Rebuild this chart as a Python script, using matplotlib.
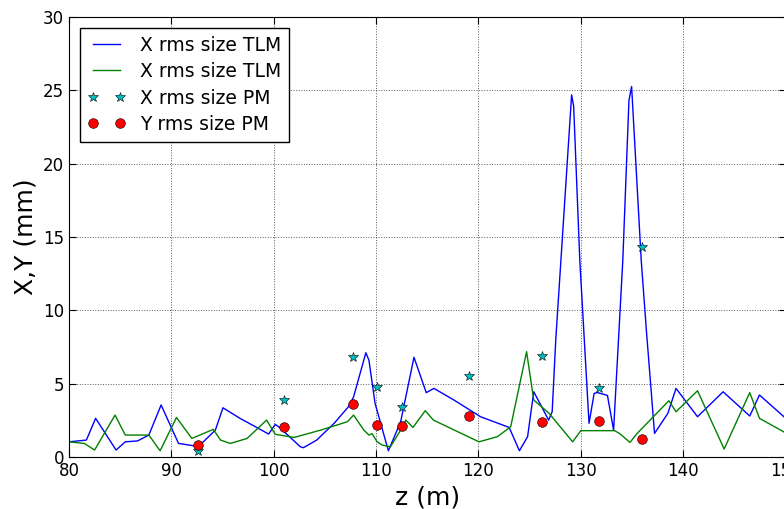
import matplotlib
matplotlib.use("Agg")
import matplotlib.pyplot as plt

# Blue: X rms size TLM
zx_blue = [80.0, 81.7, 82.6, 84.6, 85.5, 86.7, 87.8, 89.0, 90.7, 92.65, 94.3, 95.04,
           96.7, 98.2, 99.5, 100.15, 100.6, 102.6, 102.9, 104.2, 105.9, 107.3, 107.8,
           109.0, 109.3, 109.9, 111.2, 112.4, 113.7, 114.9, 115.65, 117.6, 120.2,
           123.0, 124.0, 124.8, 125.4, 126.0, 126.85, 127.2, 127.55, 128.1, 129.1,
           129.3, 129.9, 130.8, 131.3, 131.6, 132.6, 133.2, 134.1, 134.7, 134.96,
           135.9, 136.4, 137.2, 138.5, 139.3, 141.4, 143.9, 146.5, 147.45, 150.0]
x_blue = [1.04, 1.16, 2.64, 0.48, 1.04, 1.1, 1.5, 3.55, 0.93, 0.72, 1.84, 3.36,
          2.64, 2.07, 1.57, 2.23, 2.0, 0.7, 0.64, 1.16, 2.3, 3.43, 4.1,
          7.11, 6.6, 3.66, 0.43, 2.41, 6.8, 4.39, 4.68, 3.89, 2.75,
          2.02, 0.43, 1.39, 4.45, 3.66, 2.52, 3.09, 7.98, 13.9, 24.68,
          23.9, 13.4, 2.3, 4.34, 4.4, 4.2, 1.84, 13.4, 24.3, 25.25,
          13.4, 8.66, 1.61, 2.98, 4.68, 2.75, 4.45, 2.8, 4.23, 2.65]

# Green: second TLM curve
zx_green = [80.0, 81.5, 82.5, 84.5, 85.5, 87.8, 88.9, 90.5, 92.0, 94.1, 94.8, 95.75,
            97.4, 99.3, 100.15, 102.0, 104.6, 107.2, 107.8, 108.8, 109.3, 109.6, 110.1,
            110.6, 111.4, 112.4, 112.9, 113.6, 114.8, 115.6, 120.05, 121.85, 123.15,
            124.7, 125.4, 126.9, 129.2, 130.0, 133.3, 133.8, 134.8, 135.5, 138.6,
            139.3, 141.4, 144.0, 146.5, 147.45, 150.0]
y_green = [1.04, 0.93, 0.48, 2.86, 1.5, 1.5, 0.43, 2.7, 1.27, 1.89, 1.16, 0.93,
           1.27, 2.52, 1.55, 1.34, 1.84, 2.41, 2.86, 1.84, 1.5, 1.6, 1.04,
           0.82, 0.7, 1.84, 2.52, 2.02, 3.16, 2.52, 1.04, 1.39, 2.07,
           7.18, 3.89, 2.98, 1.04, 1.8, 1.8, 1.6, 1.0, 1.61, 3.84,
           3.09, 4.52, 0.55, 4.39, 2.64, 1.65]

# Profile monitor measurements
z_pm = [92.65, 101.0, 107.7, 110.1, 112.55, 119.1, 126.2, 131.8, 135.97]
x_pm = [0.43, 3.89, 6.8, 4.8, 3.39, 5.55, 6.88, 4.68, 14.34]
y_pm = [0.82, 2.07, 3.61, 2.18, 2.11, 2.8, 2.36, 2.48, 1.2]

fig = plt.figure(figsize=(7.84, 5.09), dpi=100)
ax = fig.add_axes([0.088, 0.102, 0.914, 0.865])

ax.plot(zx_blue, x_blue, color='b', lw=1.0, label='X rms size TLM')
ax.plot(zx_green, y_green, color='g', lw=1.0, label='X rms size TLM')
ax.plot(z_pm, x_pm, '*', color='#00bfbf', mec='k', mew=0.4, ms=7, label='X rms size PM')
ax.plot(z_pm, y_pm, 'o', color='r', mec='k', mew=0.4, ms=7, label='Y rms size PM')

ax.set_xlim(80, 150)
ax.set_ylim(0, 30)
ax.set_xticks(range(80, 151, 10))
ax.set_yticks(range(0, 31, 5))
ax.grid(True, color='0.35', linestyle=':', linewidth=0.7)
ax.tick_params(direction='in', labelsize=12, length=5, top=True, right=True)
ax.set_xlabel('z (m)', fontsize=18)
ax.set_ylabel('X,Y (mm)', fontsize=18)
leg = ax.legend(loc='upper left', fontsize=13.5, numpoints=2, fancybox=False,
                framealpha=1.0, edgecolor='k', borderaxespad=0.6, labelspacing=0.4)
leg.get_frame().set_linewidth(1.0)

fig.savefig('out.png', dpi=100)
